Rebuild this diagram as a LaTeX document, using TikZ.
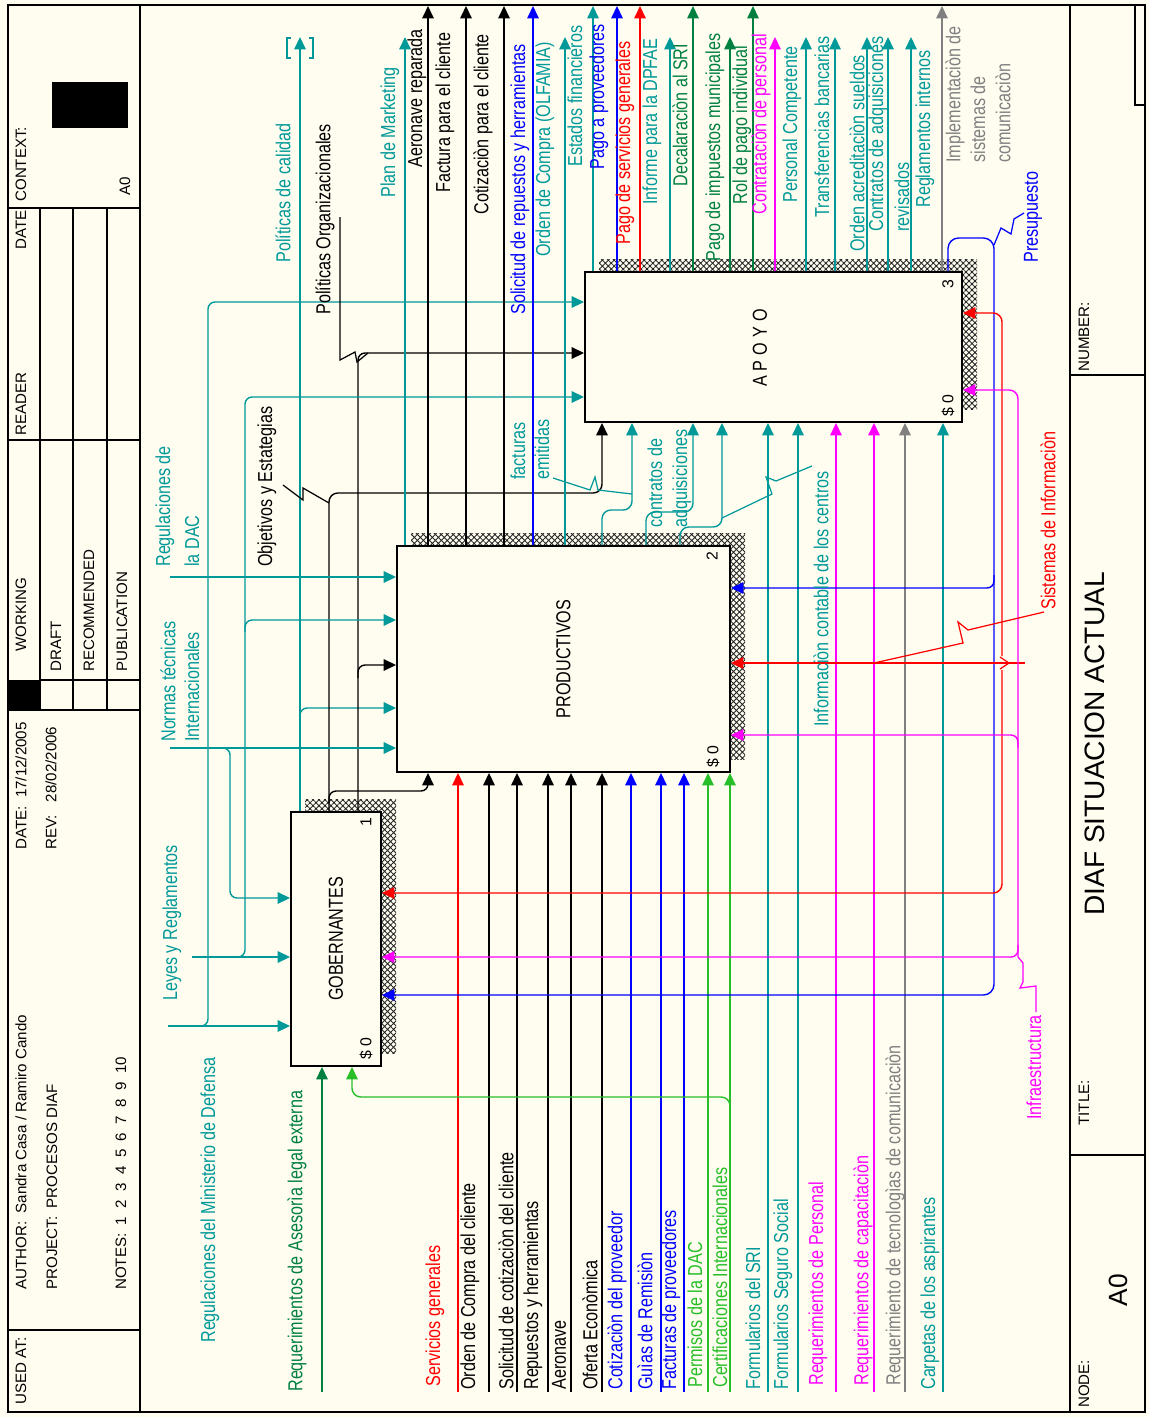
\documentclass[tikz,border=0pt]{standalone}
\usepackage{fontspec}
\setmainfont{Liberation Sans}
\newfontfamily\narrowfont{Liberation Sans}[FakeStretch=0.8]
\usetikzlibrary{arrows.meta, fit, patterns.meta}
\definecolor{paper}{RGB}{255,253,240}
\definecolor{idteal}{RGB}{0,153,153}
\definecolor{idblue}{RGB}{0,0,255}
\definecolor{idred}{RGB}{255,0,0}
\definecolor{iddkgreen}{RGB}{0,128,64}
\definecolor{idgreen}{RGB}{40,190,40}
\definecolor{idmag}{RGB}{255,0,255}
\definecolor{idgray}{RGB}{128,128,128}
\tikzset{
	conn/.style={line width=0.8pt, -{Triangle[length=7pt,width=6.5pt]}},
	tagline/.style={line width=0.7pt},
	lbl/.style={font=\narrowfont\fontsize{11.5}{13}\selectfont, rotate=90, anchor=west, inner sep=0pt},
	hdr/.style={font=\fontsize{8.6}{10}\selectfont, rotate=90, anchor=west, inner sep=0pt},
	actbox/.style={draw, line width=1.1pt, fill=paper, inner sep=0pt},
	boxname/.style={font=\narrowfont\fontsize{11.5}{13}\selectfont, rotate=90, inner sep=0pt},
	corner/.style={font=\fontsize{9}{10}\selectfont, rotate=90, inner sep=0pt},
	shade/.style={pattern={Hatch[angle=45,distance=2.4pt,line width=0.5pt]}, pattern color=black!85},
	formline/.style={line width=0.6pt},
	frameline/.style={line width=1.2pt},
}
\begin{document}
\begin{tikzpicture}[x=0.02cm, y=-0.02cm]
	\fill[paper] (0,0) rectangle (1149,1417);
	\useasboundingbox (0,0) rectangle (1149,1417);
	% frame and form
	\draw[frameline] (8,5) rectangle (1145,1412);
	\draw[frameline] (140,5) -- (140,1412);
	\draw[frameline] (1070,5) -- (1070,1412);
	\draw[formline] (8,1330) -- (140,1330);
	\draw[formline] (8,710) -- (140,710);
	\draw[formline] (8,440) -- (140,440);
	\draw[formline] (8,208) -- (140,208);
	\foreach \r in {40,73,107} \draw[formline] (\r,208) -- (\r,710);
	\draw[formline] (40,680) -- (140,680);
	\fill (8,680) rectangle (40,710);
	\fill (52,82) rectangle (128,128);
	\draw[formline] (1070,1155) -- (1145,1155);
	\draw[formline] (1070,375) -- (1145,375);
	\draw[formline] (1135,5) -- (1135,105) -- (1145,105);
	\node[hdr] (usedat) at (21,1405) {USED AT:};
	\node[hdr] (author) at (21,1290) {AUTHOR:\ \ Sandra Casa / Ramiro Cando};
	\node[hdr] (project) at (52,1290) {PROJECT:\ \ PROCESOS DIAF};
	\node[hdr] (notes) at (121,1290) {NOTES:\ \ 1\ \ 2\ \ 3\ \ 4\ \ 5\ \ 6\ \ 7\ \ 8\ \ 9\ \ 10};
	\node[hdr] (date) at (21,850) {DATE:\ \ 17/12/2005};
	\node[hdr] (rev) at (51,850) {REV:\ \ \ 28/02/2006};
	\node[hdr] (working) at (21,652) {WORKING};
	\node[hdr] (draft) at (56,672) {DRAFT};
	\node[hdr] (recom) at (89,672) {RECOMMENDED};
	\node[hdr] (public) at (122,672) {PUBLICATION};
	\node[hdr] (reader) at (21,436) {READER};
	\node[hdr] (rdate) at (21,250) {DATE};
	\node[hdr] (context) at (21,202) {CONTEXT:};
	\node[hdr] (ctxnode) at (125,196) {A0};
	\node[hdr] (nodelbl) at (1084,1408) {NODE:};
	\node[hdr, anchor=center, font=\fontsize{15}{16}\selectfont] (nodenum) at (1118,1290) {A0};
	\node[hdr] (titlelbl) at (1084,1126) {TITLE:};
	\node[hdr, anchor=center, font=\fontsize{16}{18}\selectfont] (title) at (1095,744) {DIAF SITUACION ACTUAL};
	\node[hdr] (numlbl) at (1084,372) {NUMBER:};
	% shadows and activity boxes
	\fill[shade] (305,799) rectangle (396,1053);
	\fill[shade] (411,533) rectangle (745,759);
	\fill[shade] (599,259) rectangle (977,409);
	\node[actbox, fit={(291,812) (381,1066)}] (gob) {};
	\node[actbox, fit={(397,546) (730,772)}] (prod) {};
	\node[actbox, fit={(585,272) (962,422)}] (apoyo) {};
	\node[boxname] (gobname) at (gob.center) {GOBERNANTES};
	\node[boxname] (prodname) at (prod.center) {PRODUCTIVOS};
	\node[boxname, font=\narrowfont\fontsize{11.5}{13}\selectfont\addfontfeatures{LetterSpace=25}] (apoyoname) at (760,348) {APOYO};
	\node[corner] (num1) at (366,822) {1};
	\node[corner, anchor=west] (cost1) at (366,1060) {\$ 0};
	\node[corner] (num2) at (712,556) {2};
	\node[corner, anchor=west] (cost2) at (713,768) {\$ 0};
	\node[corner] (num3) at (948,284) {3};
	\node[corner, anchor=west] (cost3) at (948,417) {\$ 0};
	% outputs of GOBERNANTES
	\draw[conn, color=idteal] (gob.north -| 300,0) -- (300,37);
	\draw[tagline, idteal] (291,38) -- (287,38) -- (287,58) -- (291,58);
	\draw[tagline, idteal] (309,38) -- (313,38) -- (313,58) -- (309,58);
	\draw[conn, color=idteal, rounded corners=4pt] (300,722) -- (300,708) -- (prod.west |- 0,708);
	\draw[conn, rounded corners=4pt] (gob.north -| 358,0) -- (358,353) -- (apoyo.west |- 0,353);
	\draw[conn, rounded corners=4pt] (358,678) -- (358,665) -- (prod.west |- 0,665);
	\draw[conn, rounded corners=5pt] (gob.north -| 329,0) -- (329,493) -- (602,493) -- (apoyo.south -| 602,0);
	\draw[conn, rounded corners=4pt] (329,803) -- (329,791) -- (428,791) -- (prod.south -| 428,0);
	% controls from the left
	\draw[conn, color=idteal] (170,577) -- (prod.west |- 0,577);
	\draw[conn, color=idteal] (170,748) -- (prod.west |- 0,748);
	\draw[conn, color=idteal, rounded corners=4pt] (218,748) -- (230,748) -- (230,898) -- (gob.west |- 0,898);
	\draw[conn, color=idteal] (192,957) -- (gob.west |- 0,957);
	\draw[conn, color=idteal, rounded corners=4pt] (233,957) -- (245,957) -- (245,397) -- (apoyo.west |- 0,397);
	\draw[conn, color=idteal, rounded corners=4pt] (245,632) -- (245,620) -- (prod.west |- 0,620);
	\draw[conn, color=idteal] (168,1026) -- (gob.west |- 0,1026);
	\draw[conn, color=idteal, rounded corners=4pt] (196,1026) -- (208,1026) -- (208,302) -- (apoyo.west |- 0,302);
	% outputs of PRODUCTIVOS
	\foreach \x/\c/\e in {405/idteal/37, 428/black/6, 466/black/6, 504/black/6, 533/idblue/6, 565/idteal/37}
		\draw[conn, color=\c] (prod.north -| \x,0) -- (\x,\e);
	\draw[conn, color=idteal, rounded corners=5pt] (prod.north -| 602,0) -- (602,510) -- (632,510) -- (apoyo.south -| 632,0);
	\draw[conn, color=idteal, rounded corners=5pt] (prod.north -| 646,0) -- (646,512) -- (693,512) -- (apoyo.south -| 693,0);
	\draw[conn, color=idteal, rounded corners=5pt] (prod.north -| 680,0) -- (680,527) -- (722,527) -- (apoyo.south -| 722,0);
	% outputs of APOYO
	\foreach \x/\c/\e in {593/idteal/6, 617/idblue/6, 640/idred/6, 670/idteal/37, 693/iddkgreen/6, 730/iddkgreen/37, 753/iddkgreen/6, 775/idmag/37, 806/idteal/37, 835/idteal/37, 867/idteal/37, 888/idteal/37, 911/idteal/37, 942/idgray/6}
		\draw[conn, color=\c] (apoyo.north -| \x,0) -- (\x,\e);
	% inputs from the bottom
	\draw[conn, color=iddkgreen] (322,1392) -- (gob.south -| 322,0);
	\foreach \x/\c in {458/idred, 489/black, 517/black, 548/black, 571/black, 602/black, 631/idblue, 661/idblue, 684/idblue, 708/idgreen, 730/idgreen}
		\draw[conn, color=\c] (\x,1392) -- (prod.south -| \x,0);
	\foreach \x/\c in {768/idteal, 798/idteal, 836/idmag, 874/idmag, 905/idgray, 943/idteal}
		\draw[conn, color=\c] (\x,1392) -- (apoyo.south -| \x,0);
	\draw[conn, color=idgreen, rounded corners=5pt] (730,1110) -- (730,1097) -- (352,1097) -- (gob.south -| 352,0);
	% mechanisms from the right
	\draw[conn, color=idblue, rounded corners=6pt] (apoyo.north -| 948,0) -- (948,238) -- (994,238) -- (994,995) -- (gob.east |- 0,995);
	\draw[conn, color=idblue, rounded corners=4pt] (994,575) -- (994,588) -- (prod.east |- 0,588);
	\draw[conn, color=idred] (1025,663) -- (prod.east |- 0,663);
	\draw[conn, color=idred, rounded corners=5pt] (1002,656) -- (1002,313) -- (apoyo.east |- 0,313);
	\draw[conn, color=idred, rounded corners=5pt] (1002,670) -- (1002,893) -- (gob.east |- 0,893);
	\draw[tagline, idred] (1000,657) -- (1009,663) -- (1000,669);
	\draw[conn, color=idmag, rounded corners=5pt] (1018,957) -- (1018,390) -- (apoyo.east |- 0,390);
	\draw[conn, color=idmag, rounded corners=4pt] (1018,748) -- (1018,735) -- (prod.east |- 0,735);
	\draw[conn, color=idmag, rounded corners=4pt] (1018,945) -- (1018,957) -- (gob.east |- 0,957);
	% label squiggles
	\draw[tagline] (340,217) -- (340,360) -- (355,352) -- (357,362) -- (368,353);
	\draw[tagline] (283,485) -- (303,500) -- (303,488) -- (329,503);
	\draw[tagline, idteal] (553,478) -- (590,490) -- (595,477) -- (598,490) -- (632,494);
	\draw[tagline, idteal] (812,466) -- (776,481) -- (766,477) -- (772,494) -- (722,518);
	\draw[tagline, idblue] (994,245) -- (1001,228) -- (1011,234) -- (1014,219) -- (1024,213);
	\draw[tagline, idred] (1044,612) -- (968,630) -- (958,622) -- (963,643) -- (874,663);
	\draw[tagline, idmag] (1018,957) -- (1023,963) -- (1023,982) -- (1020,988) -- (1036,986) -- (1036,1012);
	% arrow labels
	\foreach \x/\y/\c/\t in {283/263/idteal/Políticas de calidad, 325/315/black/Políticas Organizacionales, 390/198/idteal/Plan de Marketing, 417/168/black/Aeronave reparada, 445/193/black/Factura para el cliente, 483/215/black/Cotizaciòn para el cliente, 520/315/idblue/Solicitud de repuestos y herramientas, 545/257/idteal/Orden de Compra (OLFAMIA), 575/167/idteal/Estados financieros, 599/170/idblue/Pago a proveedores, 625/245/idred/Pago de servicios generales, 652/205/idteal/Informe para la DPFAE, 680/187/iddkgreen/Decalaraciòn al SRI, 715/262/iddkgreen/Pago de impuestos municipales, 742/205/iddkgreen/Rol de pago individual, 761/215/idmag/Contrataciòn de personal, 792/203/idteal/Personal Competente, 822/218/idteal/Transferencias bancarias, 857/252/idteal/Orden acreditaciòn sueldos, 878/232/idteal/Contratos de adquisiciones, 902/232/idteal/revisados, 925/208/idteal/Reglamentos internos, 955/163/idgray/Implementaciòn de, 978/163/idgray/sistemas de, 1003/163/idgray/comunicaciòn, 1033/263/idblue/Presupuesto}
		\node[lbl, text=\c] (top\x) at (\x,\y) {\t};
	\foreach \x/\y/\c/\t in {267/567/black/Objetivos y Estategias, 165/567/idteal/Regulaciones de, 192/567/idteal/la DAC, 168/742/idteal/Normas técnicas, 192/742/idteal/Internacionales, 518/480/idteal/facturas, 542/480/idteal/emitidas, 655/528/idteal/contratos de, 682/528/idteal/adquisiciones, 821/727/idteal/Informaciòn contable de los centros, 1048/610/idred/Sistemas de Informaciòn, 172/1001/idteal/Leyes y Reglamentos, 210/1343/idteal/Regulaciones del Ministerio de Defensa, 297/1392/iddkgreen/Requerimientos de Asesorìa legal externa, 1034/1120/idmag/Infraestructura}
		\node[lbl, text=\c] (mid\x) at (\x,\y) {\t};
	\foreach \x/\y/\c/\t in {435/1387/idred/Servicios generales, 470/1390/black/Orden de Compra del cliente, 506/1390/black/Solicitud de cotizaciòn del cliente, 533/1390/black/Repuestos y herramientas, 559/1390/black/Aeronave, 590/1390/black/Oferta Econòmica, 617/1390/idblue/Cotizaciòn del proveedor, 645/1390/idblue/Guìas de Remisiòn, 671/1390/idblue/Facturas de proveedores, 695/1388/idgreen/Permisos de la DAC, 720/1388/idgreen/Certificaciones Internacionales, 753/1390/idteal/Formularios del SRI, 783/1390/idteal/Formularios Seguro Social, 818/1386/idmag/Requerimientos de Personal, 863/1386/idmag/Requerimientos de capacitaciòn, 895/1386/idgray/Requerimiento de tecnologìas de comunicaciòn, 930/1390/idteal/Carpetas de los aspirantes}
		\node[lbl, text=\c] (bot\x) at (\x,\y) {\t};
\end{tikzpicture}
\end{document}
